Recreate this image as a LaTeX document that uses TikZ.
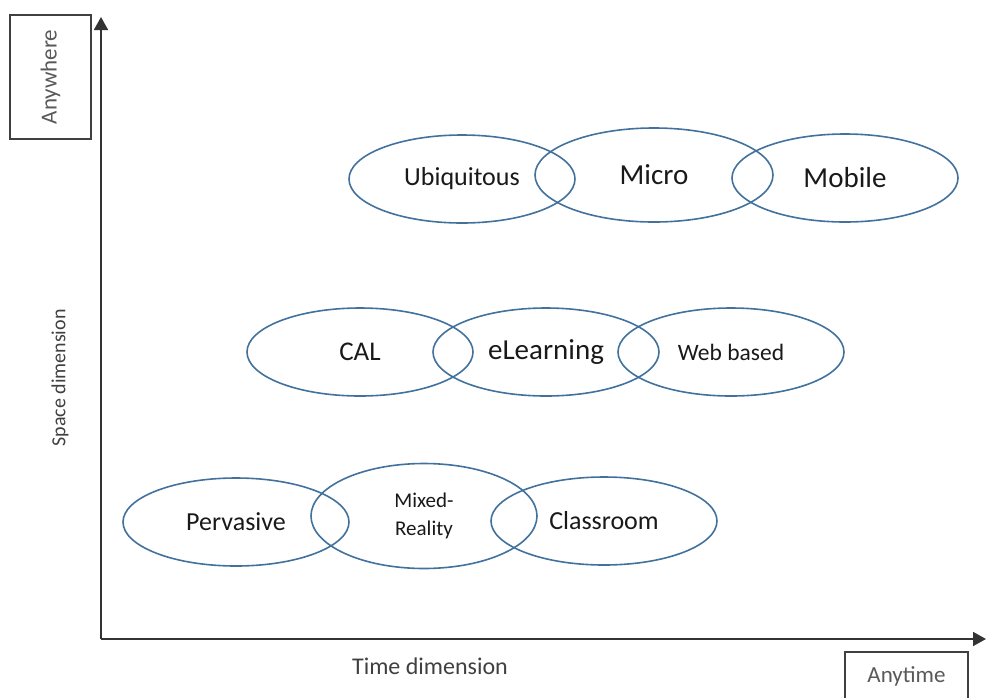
\documentclass[tikz,border=0pt]{standalone}
\usepackage{fontspec}
\setmainfont{Carlito}
\definecolor{shapeblue}{RGB}{65,113,156}
\definecolor{labelgray}{RGB}{64,64,64}
\definecolor{boxgray}{RGB}{89,89,89}
\usetikzlibrary{shapes.geometric}
\usetikzlibrary{arrows.meta}
\newcommand{\fsz}[1]{\fontsize{#1}{#1}\selectfont}

\begin{document}
\begin{tikzpicture}[x=1pt, y=-1pt]
  \useasboundingbox (0,0) rectangle (986,697);
  % axes
  \coordinate (origin) at (101,639);
  \coordinate (ytip) at (101,17);
  \coordinate (xtip) at (986,639);
  \draw [line width=1.8pt, black!80, -{Triangle[length=13pt,width=14pt]}] (origin) -- (ytip);
  \draw [line width=1.8pt, black!80, -{Triangle[length=13pt,width=14pt]}] (origin) -- (xtip);

  \node (space) [rotate=90, text=labelgray] at (60,378) {\fsz{20}Space dimension};
  \node (time) [text=labelgray] at (430,666) {\fsz{24}Time dimension};

  \node (anywhere) [draw, line width=1.5pt, black!75, text=boxgray, rotate=90, minimum width=124pt, minimum height=81pt] at (50.5,77) {\fsz{23}Anywhere};
  \node (anytime) [draw, line width=1.5pt, black!75, text=boxgray, minimum width=123pt, minimum height=48pt] at (906.5,676) {\fsz{23}Anytime};

  \begin{scope}[every node/.style={ellipse, draw=shapeblue, line width=1.6pt, inner sep=0pt, text=black!90, minimum width=226pt, minimum height=88pt}]
    % top row
    \node (ubiq) at (462,179) {\fsz{26}Ubiquitous};
    \node (micro) [minimum width=238pt, minimum height=94pt] at (654,175) {\fsz{29}Micro};
    \node (mobile) at (845,178) {\fsz{29}Mobile};
    % middle row
    \node (cal) at (360,352) {\fsz{27}CAL};
    \node (elearn) at (546,352) {\fsz{29}eLearning};
    \node (web) at (731,352) {\fsz{23.5}Web based};
    % bottom row
    \node (perv) at (236,522) {\fsz{26}Pervasive};
    \node (mixed) [minimum height=105pt, align=center, font=\fontsize{21}{28}\selectfont] at (424,516) {Mixed-\\Reality};
    \node (class) at (604,521) {\fsz{26}Classroom};
  \end{scope}

\end{tikzpicture}
\end{document}
